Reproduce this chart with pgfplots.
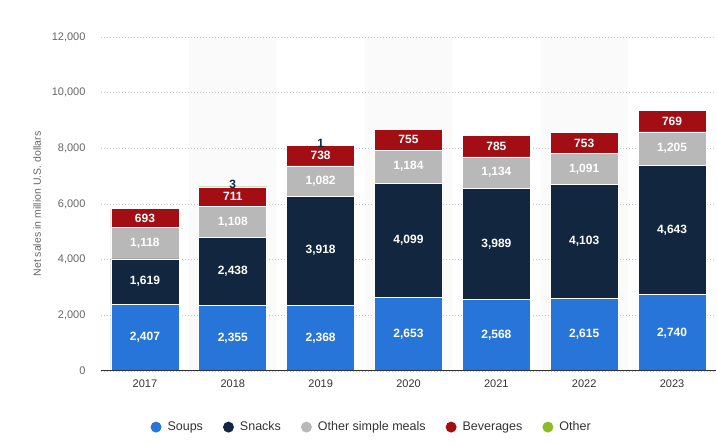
\documentclass[border=0pt]{standalone}
\usepackage{pgfplots}
\usepackage{pgfplotstable}
\usepackage{fontspec}
\setmainfont{Liberation Sans}
\pgfplotsset{compat=1.18}
\pgfkeys{/pgf/number format/.cd,1000 sep={,},assume math mode=true}
\definecolor{soups}{HTML}{2775D9}
\definecolor{snacks}{HTML}{12263F}
\definecolor{meals}{HTML}{B8B8B8}
\definecolor{bev}{HTML}{A30E15}
\definecolor{other}{HTML}{8CBD27}
\definecolor{band}{HTML}{FAFAFA}
\definecolor{gridc}{HTML}{C4C4C4}
\definecolor{ticklab}{HTML}{666666}
\definecolor{xlab}{HTML}{333333}

\pgfplotstableread{
x soups snacks meals bev other
0 2407 1619 1118 693 0
1 2355 2438 1108 711 3
2 2368 3918 1082 738 1
3 2653 4099 1184 755 0
4 2568 3989 1134 785 0
5 2615 4103 1091 753 0
6 2740 4643 1205 769 0
}\data

\pgfplotsset{base/.style={
  scale only axis, width=615pt, height=334pt,
  xmin=-0.5, xmax=6.5, ymin=0, ymax=12000,
  at={(0,0)}, anchor=south west,
}}

\begin{document}
\begin{tikzpicture}
\path[use as bounding box] (-101pt,-75pt) rectangle (616pt,371pt);
% background bands
\begin{axis}[base, hide axis, ybar, bar width=1]
\addplot[fill=band, draw=none] coordinates {(1,12000) (3,12000) (5,12000)};
\end{axis}
% main
\begin{axis}[base, ybar stacked, bar width=68pt,
  axis line style={draw=none},
  scaled y ticks=false,
  ytick={0,2000,...,12000},
  xtick={0,...,6}, xticklabels={2017,2018,2019,2020,2021,2022,2023},
  major tick length=0pt,
  ymajorgrids, grid style={gridc, dash pattern=on 1pt off 2pt, line width=0.8pt},
  yticklabel style={font=\fontsize{11}{13}\selectfont, text=ticklab, xshift=-12pt},
  xticklabel style={font=\fontsize{11}{13}\selectfont, text=xlab, yshift=-5pt},
  ylabel={Net sales in million U.S. dollars},
  every axis y label/.style={at={(axis description cs:-0.104,0.5)}, rotate=90, anchor=center, font=\fontsize{10.5}{12}\selectfont, text=ticklab},
  legend columns=5,
  legend style={draw=none, fill=none, at={(0.44,-0.168)}, anchor=center,
    font=\fontsize{12.5}{14}\selectfont, text=xlab,
    /tikz/every odd column/.append style={column sep=4pt},
    /tikz/every even column/.append style={column sep=18pt}},
  legend image code/.code={\fill[#1, draw=none] (0pt,0pt) circle (5.5pt);},
]
\addplot[fill=soups, draw=white, line width=0.8pt] table[x=x, y=soups]{\data};
\addplot[fill=snacks, draw=white, line width=0.8pt] table[x=x, y=snacks]{\data};
\addplot[fill=meals, draw=white, line width=0.8pt] table[x=x, y=meals]{\data};
\addplot[fill=bev, draw=white, line width=0.8pt] table[x=x, y=bev]{\data};
\addplot[fill=other, draw=none] table[x=x, y=other]{\data};
\legend{Soups, Snacks, Other simple meals, Beverages, Other}
\end{axis}
% labels and bottom axis line
\begin{axis}[base, axis x line=bottom, axis y line=none,
  x axis line style={-, xlab, line width=1pt},
  xtick=\empty, ytick=\empty,
  point meta=explicit,
  nodes near coords,
  every node near coord/.append style={anchor=center, font=\bfseries\fontsize{12}{13}\selectfont, text=white},
]
\addplot[draw=none, mark=none] table[x=x, y expr=\thisrow{soups}/2, meta=soups]{\data};
\addplot[draw=none, mark=none] table[x=x, y expr=\thisrow{soups}+\thisrow{snacks}/2, meta=snacks]{\data};
\addplot[draw=none, mark=none] table[x=x, y expr=\thisrow{soups}+\thisrow{snacks}+\thisrow{meals}/2, meta=meals]{\data};
\addplot[draw=none, mark=none] table[x=x, y expr=\thisrow{soups}+\thisrow{snacks}+\thisrow{meals}+\thisrow{bev}/2, meta=bev]{\data};
\addplot[draw=none, mark=none, restrict x to domain=1:2,
  every node near coord/.append style={text=snacks, yshift=2pt}]
  table[x=x, y expr=\thisrow{soups}+\thisrow{snacks}+\thisrow{meals}+\thisrow{bev}+\thisrow{other}, meta=other]{\data};
\end{axis}
\end{tikzpicture}
\end{document}
